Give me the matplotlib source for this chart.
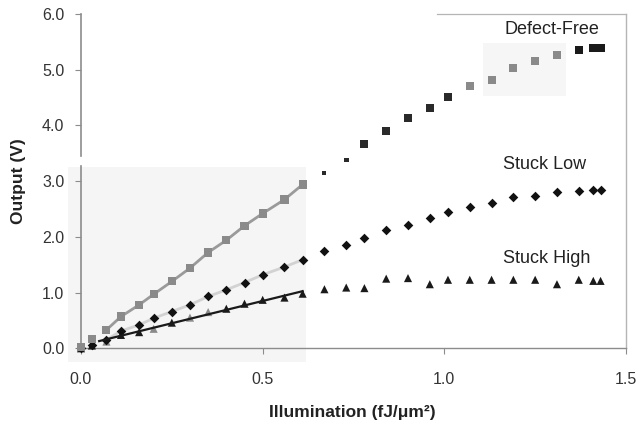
import numpy as np
import matplotlib
matplotlib.use("Agg")
import matplotlib.pyplot as plt
from matplotlib.patches import Rectangle

# Illumination levels (fJ/um^2), shared by all three pixel cases
illumination = [0.00, 0.03, 0.07, 0.11, 0.16, 0.20, 0.25, 0.30, 0.35, 0.40,
                0.45, 0.50, 0.56, 0.61, 0.67, 0.73, 0.78, 0.84, 0.90, 0.96,
                1.01, 1.07, 1.13, 1.19, 1.25, 1.31, 1.37, 1.41, 1.43]

# Output voltage (V) for each pixel condition
defect_free = [0.02, 0.16, 0.33, 0.57, 0.78, 0.97, 1.20, 1.44, 1.72, 1.94,
               2.20, 2.42, 2.67, 2.94, 3.15, 3.38, 3.66, 3.90, 4.14, 4.31,
               4.51, 4.71, 4.82, 5.03, 5.15, 5.27, 5.36, 5.39, 5.39]
stuck_low = [0.00, 0.06, 0.15, 0.31, 0.42, 0.54, 0.66, 0.78, 0.93, 1.05,
             1.18, 1.32, 1.46, 1.59, 1.74, 1.86, 1.98, 2.12, 2.22, 2.34,
             2.44, 2.53, 2.61, 2.71, 2.74, 2.81, 2.83, 2.85, 2.85]
stuck_high = [0.00, 0.05, 0.12, 0.24, 0.29, 0.35, 0.46, 0.55, 0.65, 0.71,
              0.80, 0.87, 0.91, 0.98, 1.06, 1.09, 1.08, 1.25, 1.26, 1.15,
              1.23, 1.23, 1.23, 1.23, 1.23, 1.15, 1.23, 1.21, 1.21]

series_labels = ["Defect-Free", "Stuck Low", "Stuck High"]
x_ticks = [0.0, 0.5, 1.0, 1.5]
y_ticks = [0.0, 1.0, 2.0, 3.0, 4.0, 5.0, 6.0]

x = np.array(illumination)
df = np.array(defect_free)
sl = np.array(stuck_low)
sh = np.array(stuck_high)

# linear region used for the fitted lines
lin = (x >= 0.06) & (x <= 0.62)

plt.rcParams["font.family"] = ["Liberation Sans", "DejaVu Sans"]

fig = plt.figure(figsize=(6.4, 4.28), dpi=100)
fig.patch.set_facecolor("white")

# light scanned-paper patches behind the plot
fig.patches.append(Rectangle((68 / 640, 1 - 362 / 428), 238 / 640, 195 / 428,
                             transform=fig.transFigure, facecolor="#f5f5f5",
                             edgecolor="none", zorder=-5))
fig.patches.append(Rectangle((483 / 640, 1 - 96 / 428), 83 / 640, 53 / 428,
                             transform=fig.transFigure, facecolor="#f6f6f6",
                             edgecolor="none", zorder=-5))

ax = fig.add_axes([81 / 640, 1 - 348.3 / 428, 545 / 640, 334.3 / 428])
ax.set_zorder(5)
ax.set_facecolor("none")
ax.set_xlim(0, 1.5)
ax.set_ylim(0, 6.0)

# fitted / connecting lines in the linear region
ax.plot(x[lin], df[lin], color="#9a9a9a", lw=2.0, zorder=2)
ax.plot(x[lin], sl[lin], color="#d2d2d2", lw=2.0, zorder=2)
coef = np.polyfit(x[lin], sh[lin], 1)
xf = np.array([x[lin][0] - 0.02, x[lin][-1]])
ax.plot(xf, np.polyval(coef, xf), color="#1a1a1a", lw=1.6, zorder=4)

# marker shading and sizes
n = len(x)
sq_colors = (["#8a8a8a"] * 14 + ["#2a2a2a"] * 7 + ["#8a8a8a"] * 5
             + ["#1a1a1a"] * (n - 26))
sq_sizes = [34] * n
sq_sizes[14] = 8
sq_sizes[15] = 12
tri_colors = ["#1a1a1a"] * n
for i in (2, 5, 7, 8):
    tri_colors[i] = "#8a8a8a"

ax.scatter(x, sh, marker="^", s=34, c=tri_colors, linewidths=0,
           zorder=3, clip_on=False)
ax.scatter(x, sl, marker="D", s=24, c="#111111", linewidths=0,
           zorder=3.2, clip_on=False)
ax.scatter(x, df, marker="s", s=sq_sizes, c=sq_colors, linewidths=0,
           zorder=3.4, clip_on=False)

# series labels
label_pos = [(1.296, 5.72), (1.277, 3.30), (1.282, 1.61)]
for lab, (lx, ly) in zip(series_labels, label_pos):
    ax.text(lx, ly, lab, ha="center", va="center", fontsize=13,
            color="#222222")

# axes styling
spine_col = "#8c8c8c"
ax.spines["top"].set_visible(False)
ax.spines["left"].set_visible(False)
ax.spines["right"].set_color("#b5b5b5")
ax.spines["bottom"].set_color(spine_col)
ax.spines["right"].set_linewidth(1.0)
ax.spines["bottom"].set_linewidth(1.0)
# left axis line (slightly broken) and partial top frame
ax.plot([0, 0], [0, 3.27], color=spine_col, lw=1.2, clip_on=False, zorder=1)
ax.plot([0, 0], [3.45, 6.0], color=spine_col, lw=1.2, clip_on=False, zorder=1)
ax.plot([0.98, 1.5], [6.0, 6.0], color="#b5b5b5", lw=0.9, clip_on=False,
        zorder=1)

ax.set_xticks(x_ticks)
ax.set_xticklabels([f"{v:.1f}" for v in x_ticks])
ax.set_yticks(y_ticks)
ax.set_yticklabels([f"{v:.1f}" for v in y_ticks])
ax.tick_params(axis="x", direction="out", length=4, width=0.8,
               color=spine_col, labelsize=11.5, labelcolor="#333333", pad=13)
ax.tick_params(axis="y", direction="out", length=4, width=0.8,
               color=spine_col, labelsize=11.5, labelcolor="#333333", pad=8)

fig.text(352 / 640, 1 - 412 / 428, "Illumination (fJ/\u03bcm\u00b2)",
         ha="center", va="center", fontsize=12.5, fontweight="bold",
         color="#222222")
fig.text(19 / 640, 1 - 181 / 428, "Output (V)", ha="center", va="center",
         rotation=90, fontsize=12.5, fontweight="bold", color="#222222")

fig.savefig("out.png", dpi=100, facecolor="white")
